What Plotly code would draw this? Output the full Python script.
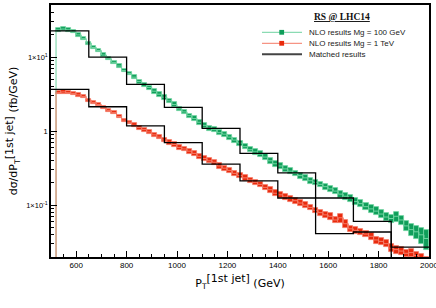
import plotly.graph_objects as go

# ---------------- data ----------------
nlo_edges_start = 520
nlo_bin_width = 20
green_nlo = [23.4, 24.0, 23.4, 22.1, 20.0, 17.8, 15.5, 13.5, 12.3, 10.7,
             9.55, 8.51, 7.59, 6.61, 6.03, 5.37, 4.68, 4.27, 3.89, 3.47,
             3.16, 2.88, 2.57, 2.29, 2.00, 1.82, 1.62, 1.48, 1.32, 1.20,
             1.10, 1.05, 0.955, 0.912, 0.832, 0.759, 0.692, 0.617, 0.562, 0.525,
             0.490, 0.447, 0.398, 0.363, 0.339, 0.309, 0.288, 0.269, 0.251, 0.234,
             0.214, 0.204, 0.191, 0.178, 0.166, 0.155, 0.141, 0.132, 0.123, 0.112,
             0.105, 0.0955, 0.0891, 0.0832, 0.0759, 0.0692, 0.0661, 0.0708, 0.0631, 0.0525,
             0.0468, 0.0437, 0.0398, 0.0355]
green_err = [0.05, 0.05, 0.05, 0.05, 0.05, 0.05, 0.05, 0.05, 0.05, 0.05,
             0.05, 0.05, 0.05, 0.05, 0.05, 0.06, 0.06, 0.06, 0.06, 0.07,
             0.07, 0.07, 0.07, 0.07, 0.07, 0.07, 0.07, 0.07, 0.07, 0.07,
             0.08, 0.08, 0.08, 0.08, 0.08, 0.08, 0.08, 0.08, 0.08, 0.08,
             0.09, 0.09, 0.09, 0.09, 0.09, 0.09, 0.09, 0.09, 0.09, 0.09,
             0.09, 0.09, 0.09, 0.10, 0.10, 0.10, 0.10, 0.10, 0.10, 0.11,
             0.11, 0.11, 0.12, 0.12, 0.12, 0.12, 0.12, 0.15, 0.14, 0.15,
             0.18, 0.20, 0.25, 0.30]
red_nlo = [3.31, 3.39, 3.31, 3.24, 3.09, 2.95, 2.63, 2.45, 2.29, 2.09,
           1.91, 1.78, 1.58, 1.41, 1.32, 1.20, 1.12, 1.05, 0.977, 0.891,
           0.832, 0.759, 0.708, 0.661, 0.603, 0.575, 0.537, 0.501, 0.457, 0.427,
           0.398, 0.380, 0.339, 0.316, 0.295, 0.269, 0.251, 0.234, 0.219, 0.204,
           0.191, 0.174, 0.162, 0.145, 0.138, 0.129, 0.123, 0.115, 0.107, 0.100,
           0.0933, 0.0851, 0.0794, 0.0741, 0.0708, 0.0631, 0.0676, 0.0562, 0.0479, 0.0457,
           0.0437, 0.0407, 0.0380, 0.0339, 0.0324, 0.0302, 0.0263, 0.0251, 0.0240, 0.0224,
           0.0229, 0.0209, 0.0191, 0.0174]
red_err = [0.05, 0.05, 0.05, 0.05, 0.05, 0.05, 0.05, 0.05, 0.05, 0.05,
           0.05, 0.05, 0.05, 0.05, 0.05, 0.06, 0.06, 0.06, 0.06, 0.07,
           0.07, 0.07, 0.07, 0.07, 0.07, 0.07, 0.07, 0.07, 0.07, 0.07,
           0.08, 0.08, 0.08, 0.08, 0.08, 0.08, 0.08, 0.08, 0.08, 0.08,
           0.09, 0.09, 0.09, 0.09, 0.09, 0.09, 0.09, 0.09, 0.09, 0.09,
           0.09, 0.09, 0.10, 0.10, 0.10, 0.10, 0.14, 0.12, 0.10, 0.10,
           0.10, 0.10, 0.11, 0.11, 0.11, 0.11, 0.12, 0.12, 0.12, 0.12,
           0.13, 0.13, 0.14, 0.14]

matched_edges = [500, 650, 800, 950, 1100, 1250, 1400, 1550, 1700, 1850, 2000]
green_matched = [22.7, 10.0, 4.3, 2.1, 1.09, 0.50, 0.273, 0.125, 0.0605, 0.0272]
red_matched = [3.68, 2.14, 1.18, 0.70, 0.358, 0.213, 0.125, 0.0412, 0.0434, 0.012]

x_tick_vals = [600, 800, 1000, 1200, 1400, 1600, 1800, 2000]
y_tick_vals = [0.1, 1, 10]
y_tick_text = ["1×10<sup>-1</sup>", "1", "1×10<sup>1</sup>"]
y_minor_vals = [0.02, 0.03, 0.04, 0.05, 0.06, 0.07, 0.08, 0.09,
                0.2, 0.3, 0.4, 0.5, 0.6, 0.7, 0.8, 0.9,
                2, 3, 4, 5, 6, 7, 8, 9, 20, 30, 40, 50]

# ---------------- figure ----------------
GREEN_D, GREEN_L = "#0f9e5a", "#6fd3a0"
RED_D, RED_L = "#e92a0c", "#f47a66"
FLOOR = 1e-3

fig = go.Figure()


def add_nlo(vals, errs, dark, light):
    n = len(vals)
    edges = [nlo_edges_start + i * nlo_bin_width for i in range(n + 1)]
    centers = [e + nlo_bin_width / 2 for e in edges[:-1]]
    fig.add_trace(go.Scatter(
        x=[edges[0]] + edges, y=[FLOOR] + vals + [vals[-1]],
        mode="lines", line=dict(color=light, width=1, shape="hv"),
        showlegend=False, hoverinfo="skip"))
    lo = [v * (1 - e) for v, e in zip(vals, errs)]
    hi = [v * (1 + e) for v, e in zip(vals, errs)]
    fig.add_trace(go.Bar(
        x=centers, y=[h - l for h, l in zip(hi, lo)], base=lo, width=nlo_bin_width,
        marker=dict(color=dark, line=dict(color=light, width=0.8)),
        showlegend=False, hoverinfo="skip"))


add_nlo(green_nlo, green_err, GREEN_D, GREEN_L)
add_nlo(red_nlo, red_err, RED_D, RED_L)

for vals in (green_matched, red_matched):
    fig.add_trace(go.Scatter(
        x=matched_edges, y=vals + [vals[-1]], mode="lines",
        line=dict(color="black", width=1.3, shape="hv"),
        showlegend=False, hoverinfo="skip"))

W, H = 436, 308
L, R, T, B = 51, 7, 5, 51
pw, ph = W - L - R, H - T - B


def px(x):
    return (x - L) / pw


def py(y):
    return (H - B - y) / ph


shapes = []
annots = []
leg_rows = [(32.3, GREEN_L, GREEN_D, "NLO results Mg = 100 GeV"),
            (43.3, RED_L, RED_D, "NLO results Mg = 1 TeV"),
            (54.3, "#444444", None, "Matched results")]
for yy, lc, mc, txt in leg_rows:
    shapes.append(dict(type="line", xref="paper", yref="paper",
                       x0=px(262), x1=px(302), y0=py(yy), y1=py(yy),
                       line=dict(color=lc, width=1 if mc else 2)))
    if mc:
        shapes.append(dict(type="rect", xref="paper", yref="paper",
                           x0=px(279.3), x1=px(284.1), y0=py(yy + 2.4), y1=py(yy - 2.4),
                           fillcolor=mc, line=dict(width=0)))
    annots.append(dict(xref="paper", yref="paper", x=px(307), y=py(yy),
                       xanchor="left", yanchor="middle", showarrow=False, text=txt,
                       font=dict(family="Liberation Sans", size=8, color="#222")))
annots.append(dict(xref="paper", yref="paper", x=px(342), y=py(17), xanchor="center",
                   yanchor="middle", showarrow=False,
                   text="<b><span style='text-decoration:underline'>RS @ LHC14</span></b>",
                   font=dict(family="Liberation Serif", size=9.5, color="#111")))

fig.update_layout(
    width=W, height=H, margin=dict(l=L, r=R, t=T, b=B),
    paper_bgcolor="white", plot_bgcolor="white",
    bargap=0, barmode="overlay", showlegend=False,
    shapes=shapes, annotations=annots,
    font=dict(family="Liberation Sans", size=8, color="black"),
    xaxis=dict(range=[500, 2000], tickvals=x_tick_vals, ticks="inside", ticklen=6,
               tickcolor="black", showline=True, linecolor="black", linewidth=1.5,
               mirror=True, showgrid=False, zeroline=False, automargin=False,
               ticklabeloverflow="allow",
               tickfont=dict(family="Liberation Sans", size=8),
               minor=dict(dtick=50, ticks="inside", ticklen=3, tickcolor="black"),
               title=dict(text="P<sub>T</sub><sup><span style='font-size:11px'>[1st jet]</span></sup> (GeV)",
                          font=dict(family="DejaVu Sans", size=11), standoff=10)),
    yaxis=dict(type="log", range=[-1.70, 1.705], tickvals=y_tick_vals, ticktext=y_tick_text,
               ticks="inside", ticklen=6, tickcolor="black", showline=True,
               linecolor="black", linewidth=1.5, mirror=True, showgrid=False,
               automargin=False,
               tickfont=dict(family="Liberation Sans", size=7.5),
               minor=dict(tickvals=y_minor_vals, ticks="inside", ticklen=3,
                          tickcolor="black", showgrid=False),
               title=dict(text="dσ/dP<sub>T</sub><sup><span style='font-size:11px'>[1st jet]</span></sup> (fb/GeV)",
                          font=dict(family="DejaVu Sans", size=11), standoff=6)),
)

fig.write_html("out.html", config={"displayModeBar": False},
               post_script="document.body.style.margin='0';document.body.style.padding='0';")
